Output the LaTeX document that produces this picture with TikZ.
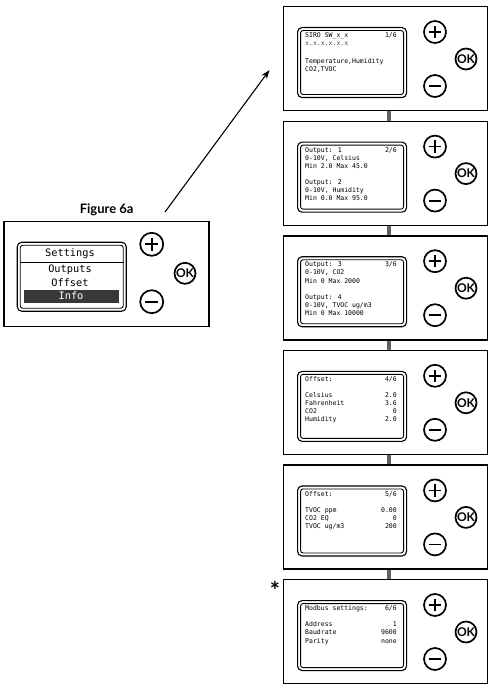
\documentclass[tikz,border=0pt]{standalone}
\usepackage{fontspec}
\newfontfamily\lcdfont{DejaVu Sans Mono}
\newfontfamily\labfont{Lato}
\usetikzlibrary{arrows.meta}
\tikzset{
 panel/.style={draw, line width=1.3pt, fill=white, minimum width=204pt, minimum height=104pt, inner sep=0pt, anchor=north west},
 scrout/.style={draw, line width=1.1pt, rounded corners=4.5pt, minimum width=109pt, minimum height=70pt, inner sep=0pt, anchor=north west},
 scrin/.style={draw, line width=0.9pt, rounded corners=2.5pt, minimum width=103pt, minimum height=64pt, inner sep=0pt},
 btn/.style={circle, draw, line width=1.7pt, minimum size=22pt, inner sep=0pt},
 okbtn/.style={circle, draw, line width=1.7pt, minimum size=21pt, inner sep=0pt, font=\labfont\bfseries\fontsize{12}{12}\selectfont},
 sym/.style={line width=1.8pt},
 lcdl/.style={anchor=mid west, inner sep=0pt, font=\lcdfont\fontsize{6.5}{6.5}\selectfont},
 lcdr/.style={anchor=mid east, inner sep=0pt, font=\lcdfont\fontsize{6.5}{6.5}\selectfont},
 menu/.style={anchor=mid, inner sep=0pt, font=\lcdfont\fontsize{10.3}{10.3}\selectfont},
 link/.style={line width=4.5pt, draw=black!62},
 arrowline/.style={line width=1.1pt, -{Stealth[length=9pt,width=6.5pt]}},
 caption/.style={inner sep=0pt, font=\labfont\bfseries\fontsize{13}{13}\selectfont},
}
\newcommand\devpanel[1]{%
 \node[panel] (#1) at (0,0) {};
 \node[scrout] (#1so) at (14,21) {};
 \node[scrin] (#1si) at (#1so.center) {};
 \node[btn] (#1p) at (152,26) {};
 \draw[sym] (#1p.center) +(-6.2,0) -- +(6.2,0) (#1p.center) +(0,-6.2) -- +(0,6.2);
 \node[okbtn] (#1o) at (183,53) {OK};
 \node[btn] (#1m) at (152,80) {};
 \draw[sym] (#1m.center) +(-6.2,0) -- +(6.2,0);
}
\begin{document}
\begin{tikzpicture}[x=1pt,y=-1pt]
\useasboundingbox (0,0) rectangle (491,687);

% left device
\node[caption] (fig) at (106.7,210) {Figure 6a};
\begin{scope}[shift={(3.3,220.7)}]
 \node[panel, minimum width=205pt, minimum height=105pt] (L) at (0,0) {};
 \node[scrout, minimum height=69pt] (Lso) at (13.4,21) {};
 \node[scrin, minimum height=63pt] (Lsi) at (Lso.center) {};
 \coordinate (Lsep) at (0,41.3);
 \draw[line width=0.9pt] (Lsi.west |- Lsep) -- (Lsi.east |- Lsep);
 \node[fill=black!78, minimum width=95pt, minimum height=12.7pt, inner sep=0pt, anchor=north west] (Lhl) at (20.7,69.3) {};
 \node[menu] (Lt1) at (66.7,33.3) {Settings};
 \node[menu] (Lt2) at (66.7,49.3) {Outputs};
 \node[menu] (Lt3) at (66.7,63.6) {Offset};
 \node[menu, text=white] (Lt4) at (67.7,76.3) {Info};
 \node[btn, minimum size=23pt] (Lp) at (148.4,23.6) {};
 \draw[sym] (Lp.center) +(-6.5,0) -- +(6.5,0) (Lp.center) +(0,-6.5) -- +(0,6.5);
 \node[okbtn] (Lo) at (181.7,52.6) {OK};
 \node[btn, minimum size=23pt] (Lm) at (148.4,81) {};
 \draw[sym] (Lm.center) +(-6.5,0) -- +(6.5,0);
\end{scope}

% panel 1
\begin{scope}[shift={(283,6)}]
 \devpanel{p1}
 \node[lcdl] (p1a) at (22,29.5) {SIRO SW\_x\_x};
 \node[lcdr] (p1b) at (114,29.5) {1/6};
 \node[lcdl, text=black!70] (p1c) at (22,37.6) {x.x.x.x.x.x};
 \node[lcdl] (p1d) at (22,55) {Temperature,Humidity};
 \node[lcdl] (p1e) at (22,63.1) {CO2,TVOC};
\end{scope}

% panel 2
\begin{scope}[shift={(283,120.6)}]
 \devpanel{p2}
 \node[lcdl] (p2a) at (22,29.5) {Output: 1};
 \node[lcdr] (p2b) at (114,29.5) {2/6};
 \node[lcdl] (p2c) at (22,37.6) {0-10V, Celsius};
 \node[lcdl] (p2d) at (22,45.7) {Min 2.0 Max 45.0};
 \node[lcdl] (p2e) at (22,61.9) {Output: 2};
 \node[lcdl] (p2f) at (22,70) {0-10V, Humidity};
 \node[lcdl] (p2g) at (22,78.1) {Min 0.0 Max 95.0};
\end{scope}

% panel 3
\begin{scope}[shift={(283,235.2)}]
 \devpanel{p3}
 \node[lcdl] (p3a) at (22,29.5) {Output: 3};
 \node[lcdr] (p3b) at (114,29.5) {3/6};
 \node[lcdl] (p3c) at (22,37.6) {0-10V, CO2};
 \node[lcdl] (p3d) at (22,45.7) {Min 0 Max 2000};
 \node[lcdl] (p3e) at (22,61.9) {Output: 4};
 \node[lcdl] (p3f) at (22,70) {0-10V, TVOC ug/m3};
 \node[lcdl] (p3g) at (22,78.1) {Min 0 Max 10000};
\end{scope}

% panel 4
\begin{scope}[shift={(283,349.8)}]
 \devpanel{p4}
 \node[lcdl] (p4a) at (22,29.5) {Offset:};
 \node[lcdr] (p4b) at (114,29.5) {4/6};
 \node[lcdl] (p4c) at (22,45.7) {Celsius};
 \node[lcdr] (p4d) at (114,45.7) {2.0};
 \node[lcdl] (p4e) at (22,53.8) {Fahrenheit};
 \node[lcdr] (p4f) at (114,53.8) {3.6};
 \node[lcdl] (p4g) at (22,61.9) {CO2};
 \node[lcdr] (p4h) at (114,61.9) {0};
 \node[lcdl] (p4i) at (22,70) {Humidity};
 \node[lcdr] (p4j) at (114,70) {2.0};
\end{scope}

% panel 5
\begin{scope}[shift={(283,464.4)}]
 \devpanel{p5}
 \node[lcdl] (p5a) at (22,29.5) {Offset:};
 \node[lcdr] (p5b) at (114,29.5) {5/6};
 \node[lcdl] (p5c) at (22,45.7) {TVOC ppm};
 \node[lcdr] (p5d) at (114,45.7) {0.00};
 \node[lcdl] (p5e) at (22,53.8) {CO2 EQ};
 \node[lcdr] (p5f) at (114,53.8) {0};
 \node[lcdl] (p5g) at (22,61.9) {TVOC ug/m3};
 \node[lcdr] (p5h) at (114,61.9) {200};
\end{scope}

% panel 6
\begin{scope}[shift={(283,579)}]
 \devpanel{p6}
 \node[lcdl] (p6a) at (22,29.5) {Modbus settings:};
 \node[lcdr] (p6b) at (114,29.5) {6/6};
 \node[lcdl] (p6c) at (22,45.7) {Address};
 \node[lcdr] (p6d) at (114,45.7) {1};
 \node[lcdl] (p6e) at (22,53.8) {Baudrate};
 \node[lcdr] (p6f) at (114,53.8) {9600};
 \node[lcdl] (p6g) at (22,61.9) {Parity};
 \node[lcdr] (p6h) at (114,61.9) {none};
\end{scope}

% links between panels
\draw[link] ([xshift=106pt]p1.south west) -- ([xshift=106pt]p2.north west);
\draw[link] ([xshift=106pt]p2.south west) -- ([xshift=106pt]p3.north west);
\draw[link] ([xshift=106pt]p3.south west) -- ([xshift=106pt]p4.north west);
\draw[link] ([xshift=106pt]p4.south west) -- ([xshift=106pt]p5.north west);
\draw[link] ([xshift=106pt]p5.south west) -- ([xshift=106pt]p6.north west);

% arrow
\coordinate (arrS) at (165,212);
\coordinate (arrE) at (269.5,70);
\draw[arrowline] (arrS) -- (arrE);

% asterisk
\node[inner sep=0pt, font=\labfont\bfseries\fontsize{24}{24}\selectfont] (star) at (275,590) {*};
\end{tikzpicture}
\end{document}
